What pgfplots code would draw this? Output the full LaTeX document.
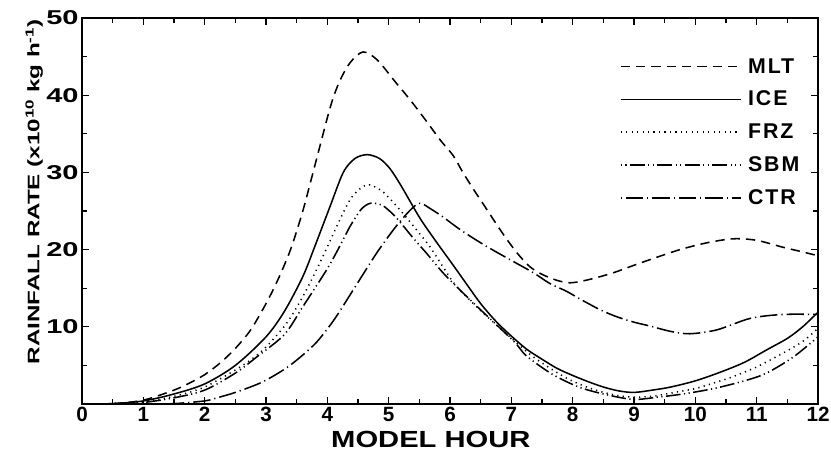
\documentclass[border=0pt]{standalone}
\usepackage{fontspec}
\setmainfont{Liberation Sans}
\newfontfamily\extfont[FakeStretch=1.45]{Liberation Sans}
\newfontfamily\midfont[FakeStretch=1.25]{Liberation Sans}
\newfontfamily\legfont[LetterSpace=9]{Liberation Sans}
\usepackage{pgfplots}
\pgfplotsset{compat=1.18}

\begin{document}
\begin{tikzpicture}
\begin{axis}[
  name=ax,
  scale only axis,
  width=552pt, height=289.5pt,
  xmin=0, xmax=12, ymin=0, ymax=50,
  xtick={0,1,...,12},
  minor xtick={0.5,1.5,...,11.5},
  ytick={10,20,30,40,50},
  minor ytick={5,15,25,35,45},
  tick align=inside,
  major tick length=5pt, minor tick length=4pt,
  every tick/.style={black, line width=1pt},
  axis line style={line width=1.5pt},
  /pgf/number format/assume math mode=true,
  x tick label style={font=\fontsize{15.5}{16}\selectfont\bfseries, yshift=1pt},
  y tick label style={font=\fontsize{15}{16}\selectfont\extfont\bfseries, xshift=1pt},
  xlabel={MODEL HOUR},
  xlabel style={font=\fontsize{17.5}{18}\selectfont\midfont\bfseries, at={(axis description cs:0.474,-0.093)}, anchor=center},
  ylabel={RAINFALL RATE (x10\textsuperscript{10} kg h\textsuperscript{-1})},
  ylabel style={font=\fontsize{12.5}{13}\selectfont\extfont\bfseries, at={(axis description cs:-0.065,0.55)}, anchor=center},
  legend image code/.code={\draw[#1] (0pt,0pt) -- (90pt,0pt);},
  legend cell align=left,
  legend style={at={(rel axis cs:0.725,0.91)}, anchor=north west, draw=none, fill=none,
    font=\fontsize{16}{17}\selectfont\legfont\bfseries, row sep=8pt,
    /tikz/every odd column/.style={column sep=3pt}},
  every axis plot/.append style={black, line width=1.15pt, smooth},
]
% MLT
\addplot[dash pattern=on 7pt off 4.5pt] coordinates {
(0,0) (0.5,0.05) (1,0.5) (1.5,1.8) (1.75,2.7) (2,3.8) (2.25,5.3) (2.5,7.2) (2.75,9.6) (3,13)
(3.2,16.2) (3.4,20) (3.6,25) (3.8,31) (4.05,38.5) (4.2,41.8) (4.37,44.2) (4.58,45.6) (4.81,44.6)
(5.1,41.8) (5.35,39.4) (5.6,36.8) (5.84,34.2) (6.05,32.2) (6.21,30) (6.4,27.6) (6.6,25.2)
(6.85,22.2) (7.09,19.6) (7.3,17.8) (7.5,16.8) (7.75,16.0) (7.96,15.7) (8.2,16.0) (8.45,16.5)
(8.7,17.1) (8.94,17.8) (9.26,18.7) (9.75,20) (10.2,20.9) (10.62,21.4) (11,21.2) (11.43,20.3)
(11.75,19.7) (12,19.2)};
\addlegendentry{MLT}
% ICE
\addplot[solid] coordinates {
(0,0) (0.5,0.05) (1,0.4) (1.5,1.3) (2,2.6) (2.5,5.0) (3,8.7) (3.3,12) (3.6,16.5) (3.8,20.5)
(4.04,25.5) (4.26,30.0) (4.45,31.8) (4.65,32.3) (4.85,31.8) (5.02,30.5) (5.2,28.3) (5.5,24.2)
(5.75,21.3) (6.05,18.0) (6.3,15.2) (6.5,13.0) (6.75,10.7) (7,8.8) (7.25,7.1) (7.5,5.8)
(7.75,4.6) (8,3.7) (8.25,2.9) (8.5,2.2) (8.75,1.7) (9,1.5) (9.3,1.8) (9.6,2.2) (10,3.0)
(10.4,4.1) (10.8,5.4) (11.16,7.0) (11.5,8.5) (11.75,10.0) (12,11.9)};
\addlegendentry{ICE}
% FRZ
\addplot[dash pattern=on 0.9pt off 3.2pt] coordinates {
(0,0) (0.5,0.05) (1,0.3) (1.5,1.0) (2,2.2) (2.58,4.8) (2.95,7.0) (3.34,10.5) (3.66,14.8)
(3.95,19.5) (4.2,23.8) (4.4,26.8) (4.64,28.4) (4.85,27.8) (4.97,27) (5.2,25) (5.46,22.5)
(5.67,20.4) (5.9,17.6) (6.11,15.2) (6.54,11.8) (7.09,7.9) (7.36,6.1) (7.66,4.5) (7.96,3.1)
(8.3,2.0) (8.66,1.2) (8.98,0.9) (9.3,1.0) (9.59,1.4) (10,2.0) (10.29,2.7) (10.6,3.5)
(11,4.8) (11.43,6.6) (11.75,8.1) (12,9.8)};
\addlegendentry{FRZ}
% SBM
\addplot[dash pattern=on 0.9pt off 2.6pt on 0.9pt off 2.6pt on 11pt off 2.6pt] coordinates {
(0,0) (0.5,0) (1,0.2) (1.5,0.8) (2,1.8) (2.5,4.0) (2.85,6.1) (3.3,9.0) (3.6,12.6) (3.99,17.4)
(4.2,20.4) (4.37,23.0) (4.55,25.2) (4.7,26.0) (4.88,25.8) (5.0,25.1) (5.14,24.0) (5.4,21.5)
(5.62,19.5) (5.92,16.7) (6.38,13.1) (7.03,8.2) (7.25,6.2) (7.68,3.8) (8.1,2.2) (8.5,1.3)
(8.98,0.6) (9.4,0.9) (9.8,1.3) (10.3,2.0) (10.8,3.0) (11.16,4.0) (11.6,6.1) (12,8.7)};
\addlegendentry{SBM}
% CTR
\addplot[dash pattern=on 0.9pt off 3pt on 13pt off 3pt] coordinates {
(0,0) (1,0) (1.5,0.05) (2,0.4) (2.2,0.8) (2.5,1.5) (2.9,2.7) (3.2,4.0) (3.44,5.3) (3.8,7.8)
(4.1,10.8) (4.4,14.5) (4.8,19.5) (5.1,22.8) (5.35,25.1) (5.51,26) (5.7,25.2) (5.89,24.2)
(6.2,22.4) (6.6,20.4) (7,18.6) (7.36,17.0) (7.63,15.6) (7.9,14.6) (8.12,13.6) (8.45,12.2)
(8.72,11.3) (9.0,10.6) (9.26,10.1) (9.6,9.4) (9.91,9.1) (10.35,9.6) (10.9,11.1) (11.43,11.6)
(12,11.6)};
\addlegendentry{CTR}
\end{axis}
\pgfresetboundingbox
\path[use as bounding box] ([xshift=-61.5pt,yshift=-37.5pt]ax.south west) rectangle ([xshift=9.75pt,yshift=13.5pt]ax.north east);
\end{tikzpicture}
\end{document}
